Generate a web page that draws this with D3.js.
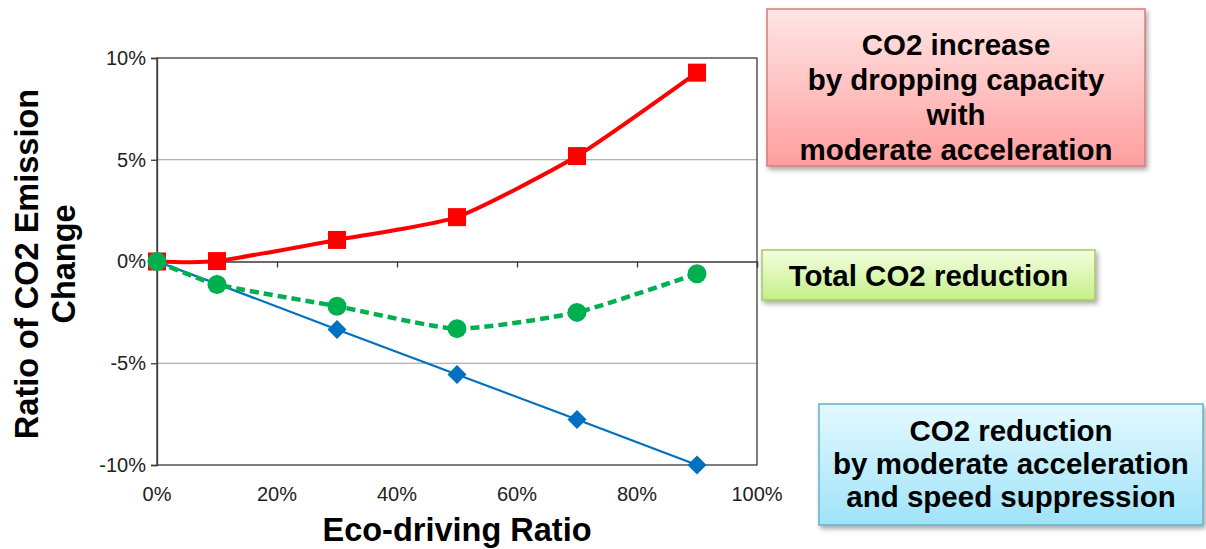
<!DOCTYPE html>
<html>
<head>
<meta charset="utf-8">
<script src="https://cdn.jsdelivr.net/npm/d3@7/dist/d3.min.js"></script>
<style>
  body { margin: 0; background: #fff; }
  svg { display: block; font-family: Arial, "Liberation Sans", sans-serif; }
</style>
</head>
<body>
<svg width="1206" height="549"></svg>
<script>
// eco-driving ratio (x) and CO2 change (y)
var ratios = [0, 0.1, 0.3, 0.5, 0.7, 0.9]
var increase = [0, 0.0002, 0.0106, 0.0218, 0.0518, 0.0928]
var total = [0, -0.0113, -0.022, -0.033, -0.025, -0.006]
var reduction = [0, -0.011, -0.0334, -0.0555, -0.0776, -0.100]

var xTicks = [0, 0.2, 0.4, 0.6, 0.8, 1.0]
var yTicks = [-0.10, -0.05, 0, 0.05, 0.10]

var boxes = [
    { lines: ["CO2 increase", "by dropping capacity", "with", "moderate acceleration"],
      x: 767, y: 9, w: 378, h: 157, top: "#ffe6e6", bottom: "#ff9e9e", stroke: "#d9797b", grad: "gRed", dy: 35, ty: 46 },
    { lines: ["Total CO2 reduction"],
      x: 762, y: 250, w: 333, h: 50, top: "#f4ffe0", bottom: "#c4ee88", stroke: "#a6c86a", grad: "gGreen", dy: 0, ty: 36 },
    { lines: ["CO2 reduction", "by moderate acceleration", "and speed suppression"],
      x: 819, y: 404, w: 384, h: 121, top: "#e4f9ff", bottom: "#9fe3f8", stroke: "#5fb3cc", grad: "gBlue", dy: 33, ty: 37 }
]

var pct = v => d3.format(".0%")(v).replace("\u2212", "-")

var svg = d3.select("svg")
var defs = svg.append("defs")

var shadow = defs.append("filter").attr("id", "shadow")
    .attr("x", "-10%").attr("y", "-10%").attr("width", "130%").attr("height", "140%")
shadow.append("feDropShadow").attr("dx", 2).attr("dy", 3).attr("stdDeviation", 2.5)
    .attr("flood-color", "#000").attr("flood-opacity", 0.35)

var x = d3.scaleLinear().domain([0, 1]).range([157, 757])
var y = d3.scaleLinear().domain([-0.1, 0.1]).range([465, 58])

// gridlines
svg.append("g").selectAll("line").data([-0.05, 0.05])
    .enter().append("line")
    .attr("x1", x(0)).attr("x2", x(1))
    .attr("y1", d => y(d)).attr("y2", d => y(d))
    .attr("stroke", "#9a9a9a").attr("stroke-width", 1.2)

// plot border
svg.append("rect")
    .attr("x", x(0)).attr("y", y(0.1))
    .attr("width", x(1) - x(0)).attr("height", y(-0.1) - y(0.1))
    .attr("fill", "none").attr("stroke", "#3a3a3a").attr("stroke-width", 1.3)

// y axis
var yAxis = svg.append("g").attr("transform", "translate(" + x(0) + ",0)")
    .call(d3.axisLeft(y).tickValues(yTicks).tickFormat(pct).tickSize(6).tickPadding(5))
yAxis.select(".domain").attr("stroke", "#3a3a3a").attr("stroke-width", 1.3)
yAxis.selectAll(".tick line").attr("stroke", "#3a3a3a").attr("stroke-width", 1.3)
yAxis.selectAll("text").attr("font-size", 20).attr("fill", "#222")
    .attr("font-family", "Arial, 'Liberation Sans', sans-serif")

// x axis crosses at 0
var xAxis = svg.append("g").attr("transform", "translate(0," + y(0) + ")")
    .call(d3.axisBottom(x).tickValues(xTicks).tickFormat("").tickSize(6))
xAxis.select(".domain").attr("stroke", "#3a3a3a").attr("stroke-width", 1.3)
xAxis.selectAll(".tick line").attr("stroke", "#3a3a3a").attr("stroke-width", 1.3)

// x tick labels sit at the bottom of the chart
svg.append("g").selectAll("text").data(xTicks)
    .enter().append("text")
    .attr("x", d => x(d)).attr("y", 501)
    .attr("text-anchor", "middle")
    .attr("font-size", 20).attr("fill", "#222")
    .text(pct)

// axis titles
svg.append("text")
    .attr("x", x(0.5)).attr("y", 541)
    .attr("text-anchor", "middle").attr("font-size", 32.5).attr("font-weight", "bold")
    .text("Eco-driving Ratio")

var yt = svg.append("text")
    .attr("transform", "translate(38," + 264 + ") rotate(-90)")
    .attr("text-anchor", "middle").attr("font-size", 32.5).attr("font-weight", "bold")
yt.append("tspan").attr("x", 0).attr("y", 0).text("Ratio of CO2 Emission")
yt.append("tspan").attr("x", 0).attr("y", 37).text("Change")

function pts(vals) {
    return ratios.map((r, i) => [r, vals[i]])
}

var line = d3.line().x(d => x(d[0])).y(d => y(d[1]))
// smoothed line, tension keeps it from wobbling
var smooth = d3.line().x(d => x(d[0])).y(d => y(d[1])).curve(d3.curveCardinal.tension(0.45))

// red: CO2 increase
var red = svg.append("g")
red.append("path").attr("d", smooth(pts(increase)))
    .attr("fill", "none").attr("stroke", "#ff0000").attr("stroke-width", 4)
red.selectAll("rect").data(pts(increase))
    .enter().append("rect")
    .attr("x", d => x(d[0]) - 9).attr("y", d => y(d[1]) - 9)
    .attr("width", 18).attr("height", 18)
    .attr("fill", "#ff0000")

// blue: CO2 reduction
var blue = svg.append("g")
blue.append("path").attr("d", line(pts(reduction)))
    .attr("fill", "none").attr("stroke", "#0070c0").attr("stroke-width", 2.2)
blue.selectAll("path.m").data(pts(reduction))
    .enter().append("path").attr("class", "m")
    .attr("d", d3.symbol().type(d3.symbolSquare).size(180))
    .attr("transform", d => "translate(" + x(d[0]) + "," + y(d[1]) + ") rotate(45)")
    .attr("fill", "#0070c0")

// green: total
var green = svg.append("g")
green.append("path").attr("d", smooth(pts(total)))
    .attr("fill", "none").attr("stroke", "#00b050").attr("stroke-width", 4.5)
    .attr("stroke-dasharray", "9,5")
green.selectAll("circle").data(pts(total))
    .enter().append("circle")
    .attr("cx", d => x(d[0])).attr("cy", d => y(d[1])).attr("r", 9.5)
    .attr("fill", "#00b050")

// annotation boxes
boxes.forEach(b => {
    var g = defs.append("linearGradient").attr("id", b.grad)
        .attr("x1", 0).attr("y1", 0).attr("x2", 0).attr("y2", 1)
    g.append("stop").attr("offset", "0%").attr("stop-color", b.top)
    g.append("stop").attr("offset", "100%").attr("stop-color", b.bottom)

    var box = svg.append("g")
    box.append("rect")
        .attr("x", b.x).attr("y", b.y).attr("width", b.w).attr("height", b.h)
        .attr("fill", "url(#" + b.grad + ")")
        .attr("stroke", b.stroke).attr("stroke-width", 1.5)
        .attr("filter", "url(#shadow)")
    box.selectAll("text").data(b.lines)
        .enter().append("text")
        .attr("x", b.x + b.w / 2)
        .attr("y", (d, i) => b.y + b.ty + i * b.dy)
        .attr("text-anchor", "middle")
        .attr("font-size", 29.5).attr("font-weight", "bold").attr("fill", "#000")
        .text(d => d)
})
</script>
</body>
</html>
